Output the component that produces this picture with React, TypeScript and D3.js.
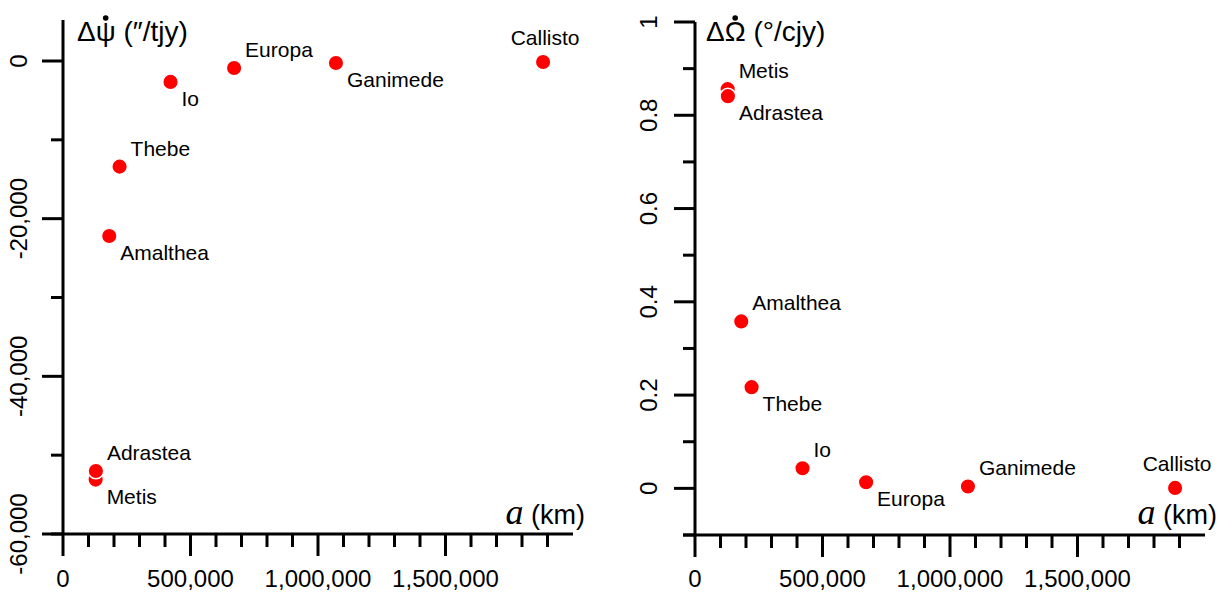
import React, { useLayoutEffect, useRef, useState } from "react";
import * as d3 from "d3";

// ---- data ----
const moons = ["Metis", "Adrastea", "Amalthea", "Thebe", "Io", "Europa", "Ganimede", "Callisto"];
const semiMajorAxisKm = [128000, 129000, 181400, 221900, 421700, 671000, 1070400, 1882700];
const deltaPsiDot = [-53100, -52000, -22200, -13400, -2650, -890, -250, -120];
const deltaOmegaDot = [0.856, 0.841, 0.358, 0.217, 0.043, 0.013, 0.004, 0.001];
const leftLabelPlacement = ["br", "tr", "br", "tr", "br", "tr", "br", "tc"];
const rightLabelPlacement = ["tr", "br", "tr", "br", "tr", "br", "tr", "tc"];

const xMajorTicks = [0, 500000, 1000000, 1500000];
const xMinorTicks = [100000, 200000, 300000, 400000, 600000, 700000, 800000, 900000, 1100000, 1200000, 1300000, 1400000, 1600000, 1700000, 1800000, 1900000];
const leftYMajorTicks = [0, -20000, -40000, -60000];
const leftYMinorTicks = [-10000, -30000, -50000];
const rightYMajorTicks = [0, 0.2, 0.4, 0.6, 0.8, 1];
const rightYMinorTicks = [-0.1, 0.1, 0.3, 0.5, 0.7, 0.9];

const FONT = "'Liberation Sans', Arial, sans-serif";
const locale = d3.formatLocale({ decimal: ".", thousands: ",", grouping: [3], currency: ["", ""], minus: "-" });
const commaFmt = locale.format(",");

type PanelCfg = {
  x0: number; x1: number;
  yDomain: [number, number]; yRange: [number, number];
  axisTop: number;
  values: number[];
  placement: string[];
  yMajor: number[]; yMinor: number[];
  yFmt: (v: number) => string;
  yLabelX: number;
  titleX: number; titleMain: string; titleSymbol: string; titleRest: string;
};

function Panel({ cfg }: { cfg: PanelCfg }) {
  const x = d3.scaleLinear().domain([0, 2000000]).range([cfg.x0, cfg.x1]);
  const y = d3.scaleLinear().domain(cfg.yDomain).range(cfg.yRange);
  const axisY = y(cfg.yDomain[0]);
  const titleRef = useRef<SVGTextElement>(null);
  const [dot, setDot] = useState<{ x: number; y: number } | null>(null);
  useLayoutEffect(() => {
    const t = titleRef.current;
    if (t) {
      try {
        const ext = t.getExtentOfChar(1);
        setDot({ x: ext.x + ext.width / 2, y: ext.y + 2 });
      } catch (e) {}
    }
  }, []);
  const sw = 3;
  return (
    <g>
      {/* y axis */}
      <line x1={cfg.x0} x2={cfg.x0} y1={cfg.axisTop} y2={axisY} stroke="#000" strokeWidth={sw} />
      {cfg.yMajor.map((v) => (
        <g key={"ym" + v}>
          <line x1={cfg.x0 - 21} x2={cfg.x0} y1={y(v)} y2={y(v)} stroke="#000" strokeWidth={sw} />
          <text transform={`translate(${cfg.yLabelX},${y(v)}) rotate(-90)`} textAnchor="middle" fontFamily={FONT} fontSize={24}>
            {cfg.yFmt(v)}
          </text>
        </g>
      ))}
      {cfg.yMinor.map((v) => (
        <line key={"yn" + v} x1={cfg.x0 - 12} x2={cfg.x0} y1={y(v)} y2={y(v)} stroke="#000" strokeWidth={sw} />
      ))}
      {/* x axis */}
      <line x1={cfg.x0 - 12} x2={cfg.x1} y1={axisY} y2={axisY} stroke="#000" strokeWidth={sw} />
      {xMajorTicks.map((v) => (
        <g key={"xm" + v}>
          <line x1={x(v)} x2={x(v)} y1={axisY} y2={axisY + 22} stroke="#000" strokeWidth={sw} />
          <text x={x(v)} y={587} textAnchor="middle" fontFamily={FONT} fontSize={24}>
            {commaFmt(v)}
          </text>
        </g>
      ))}
      {xMinorTicks.map((v) => (
        <line key={"xn" + v} x1={x(v)} x2={x(v)} y1={axisY} y2={axisY + 13} stroke="#000" strokeWidth={sw} />
      ))}
      {/* x title */}
      <text x={cfg.x1 + 12} y={524} textAnchor="end" fontFamily={FONT} fontSize={27}>
        <tspan fontFamily="'Liberation Serif', 'DejaVu Serif', serif" fontStyle="italic" fontSize={36}>a</tspan>
        <tspan> (km)</tspan>
      </text>
      {/* y title */}
      <text ref={titleRef} x={cfg.titleX} y={41} fontFamily={FONT} fontSize={28}>
        {cfg.titleMain + cfg.titleSymbol + cfg.titleRest}
      </text>
      {dot && <circle cx={dot.x} cy={dot.y} r={2.8} fill="#000" />}
      {/* points */}
      {moons.map((m, i) => {
        const cx = x(semiMajorAxisKm[i]);
        const cy = y(cfg.values[i]);
        const p = cfg.placement[i];
        let tx = cx + 11, ty = cy + 24, anchor: "start" | "middle" = "start";
        if (p === "tr") { tx = cx + 11; ty = cy - 11; }
        if (p === "tc") { tx = cx + 2; ty = cy - 17; anchor = "middle"; }
        return (
          <g key={m}>
            <circle cx={cx} cy={cy} r={7.8} fill="#ff0000" stroke="#fff" strokeWidth={1.5} />
            <text x={tx} y={ty} textAnchor={anchor} fontFamily={FONT} fontSize={21}>{m}</text>
          </g>
        );
      })}
    </g>
  );
}

export default function App() {
  const left: PanelCfg = {
    x0: 63, x1: 573,
    yDomain: [-60000, 0], yRange: [534, 61],
    axisTop: 20,
    values: deltaPsiDot,
    placement: leftLabelPlacement,
    yMajor: leftYMajorTicks, yMinor: leftYMinorTicks,
    yFmt: (v) => commaFmt(v),
    yLabelX: 27,
    titleX: 77, titleMain: "Δ", titleSymbol: "ψ", titleRest: " (″/tjy)",
  };
  const right: PanelCfg = {
    x0: 695, x1: 1205,
    yDomain: [-0.1, 1], yRange: [535, 22],
    axisTop: 22,
    values: deltaOmegaDot,
    placement: rightLabelPlacement,
    yMajor: rightYMajorTicks, yMinor: rightYMinorTicks,
    yFmt: (v) => String(v),
    yLabelX: 657,
    titleX: 706, titleMain: "Δ", titleSymbol: "Ω", titleRest: " (°/cjy)",
  };
  return (
    <svg width={1222} height={592} style={{ position: "absolute", left: 0, top: 0, background: "#fff" }}>
      <rect width={1222} height={592} fill="#fff" />
      <Panel cfg={left} />
      <Panel cfg={right} />
    </svg>
  );
}
